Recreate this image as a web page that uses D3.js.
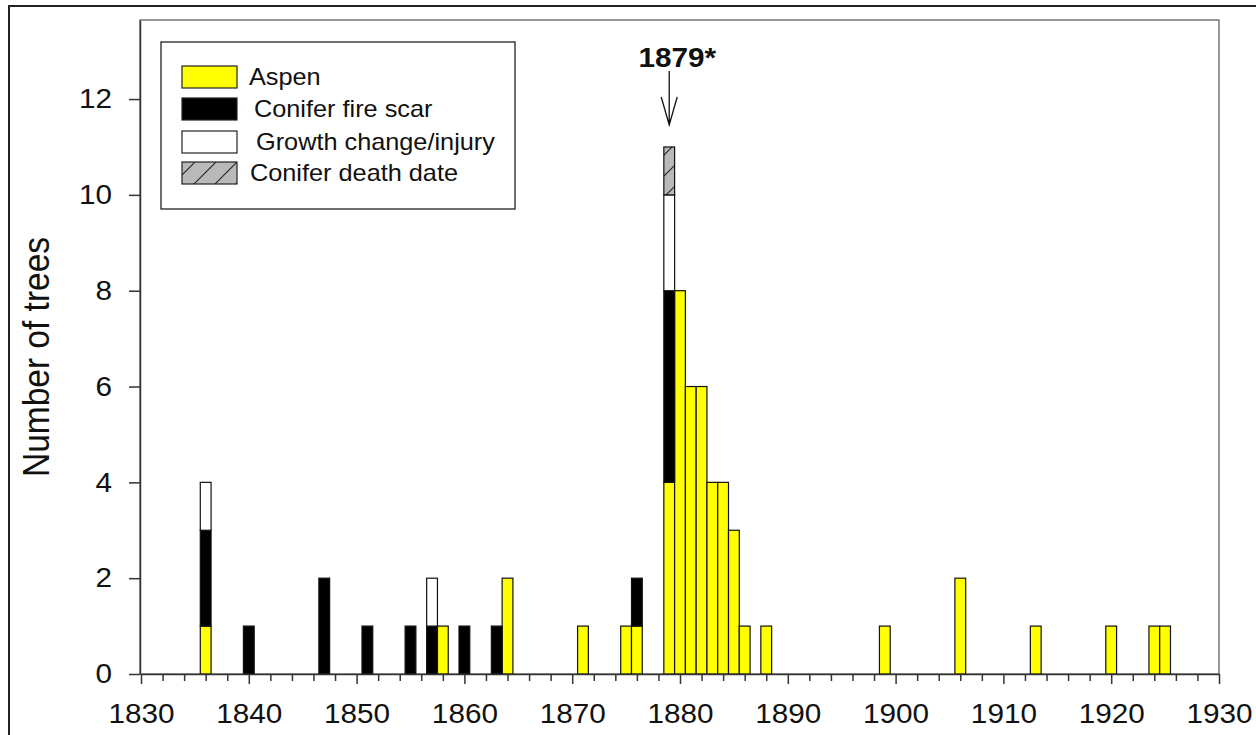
<!DOCTYPE html>
<html>
<head>
<meta charset="utf-8">
<script src="https://cdn.jsdelivr.net/npm/d3@7"></script>
<style>
  html, body { margin: 0; padding: 0; background: #fff; }
  svg { display: block; }
  text { font-family: "Liberation Sans", Arial, sans-serif; fill: #111; }
</style>
</head>
<body>
<svg id="chart" width="1256" height="735"></svg>
<script>
// Tree-ring record: counts of trees per year by evidence type
const years    = [1836,1840,1847,1851,1855,1857,1858,1860,1863,1864,1871,1875,1876,1879,1880,1881,1882,1883,1884,1885,1886,1888,1899,1906,1913,1920,1924,1925];
const aspen    = [1,   0,   0,   0,   0,   0,   1,   0,   0,   2,   1,   1,   1,   4,   8,   6,   6,   4,   4,   3,   1,   1,   1,   2,   1,   1,   1,   1];
const fireScar = [2,   1,   2,   1,   1,   1,   0,   1,   1,   0,   0,   0,   1,   4,   0,   0,   0,   0,   0,   0,   0,   0,   0,   0,   0,   0,   0,   0];
const growth   = [1,   0,   0,   0,   0,   1,   0,   0,   0,   0,   0,   0,   0,   2,   0,   0,   0,   0,   0,   0,   0,   0,   0,   0,   0,   0,   0,   0];
const death    = [0,   0,   0,   0,   0,   0,   0,   0,   0,   0,   0,   0,   0,   1,   0,   0,   0,   0,   0,   0,   0,   0,   0,   0,   0,   0,   0,   0];

const seriesKeys   = ["aspen", "fireScar", "growth", "death"];
const seriesLabels = ["Aspen", "Conifer fire scar", "Growth change/injury", "Conifer death date"];
const xMajorTicks  = [1830,1840,1850,1860,1870,1880,1890,1900,1910,1920,1930];
const yTicks       = [0,2,4,6,8,10,12];
const markYear = 1879;
const markLabel = "1879*";
const yLabel = "Number of trees";

const svg = d3.select("#chart");
const SX = 1.1; // horizontal text stretch

const plot = { left: 140, top: 20, right: 1219, bottom: 674 };
const x = d3.scaleLinear().domain([1830, 1930]).range([141, 1219]);
const y = d3.scaleLinear().domain([0, 13.65]).range([plot.bottom, plot.top]);

// hatch pattern for conifer death date
const defs = svg.append("defs");
const pat = defs.append("pattern")
  .attr("id", "hatch").attr("patternUnits", "userSpaceOnUse")
  .attr("width", 21).attr("height", 21);
pat.append("rect").attr("width", 21).attr("height", 21).attr("fill", "#b9b9b9");
pat.append("path").attr("d", "M0,21 L21,0 M-3,3 L3,-3 M18,24 L24,18")
  .attr("stroke", "#222").attr("stroke-width", 1.1);

const fills = { aspen: "#ffff00", fireScar: "#000000", growth: "#ffffff", death: "url(#hatch)" };

// outer frame
svg.append("rect").attr("x", 9).attr("y", 6).attr("width", 1400).attr("height", 900)
  .attr("fill", "none").attr("stroke", "#222").attr("stroke-width", 2);

// plot frame
svg.append("rect")
  .attr("x", plot.left).attr("y", plot.top)
  .attr("width", plot.right - plot.left).attr("height", plot.bottom - plot.top)
  .attr("fill", "none").attr("stroke", "#555").attr("stroke-width", 1.2);

// stacked bars
const table = years.map((yr, i) => ({ year: yr, aspen: aspen[i], fireScar: fireScar[i], growth: growth[i], death: death[i] }));
const stacked = d3.stack().keys(seriesKeys)(table);

const gBars = svg.append("g");
stacked.forEach(layer => {
  gBars.append("g").selectAll("rect")
    .data(layer.filter(d => d[1] > d[0]))
    .join("rect")
    .attr("x", d => x(d.data.year - 0.5))
    .attr("width", d => x(d.data.year + 0.5) - x(d.data.year - 0.5))
    .attr("y", d => y(d[1]))
    .attr("height", d => y(d[0]) - y(d[1]))
    .attr("fill", fills[layer.key])
    .attr("stroke", "#111").attr("stroke-width", 1.2);
});

// x axis: minor ticks every 2 years, then labelled major ticks
const minorTicks = d3.range(1830, 1931, 2).filter(v => !xMajorTicks.includes(v));
svg.append("g").attr("transform", `translate(0,${plot.bottom})`)
  .call(d3.axisBottom(x).tickValues(minorTicks).tickSize(7).tickSizeOuter(0).tickFormat(""))
  .call(g => g.select(".domain").remove())
  .call(g => g.selectAll("line").attr("stroke", "#333").attr("stroke-width", 1.5));

const xAxis = svg.append("g").attr("transform", `translate(0,${plot.bottom})`)
  .call(d3.axisBottom(x).tickValues(xMajorTicks).tickSize(10).tickSizeOuter(0).tickPadding(19.5).tickFormat(d3.format("d")));
xAxis.select(".domain").attr("stroke", "#333").attr("stroke-width", 1.5);
xAxis.selectAll("line").attr("stroke", "#333").attr("stroke-width", 1.5);
xAxis.selectAll("text").attr("font-size", 27).attr("fill", "#111")
  .attr("font-family", "Liberation Sans, Arial, sans-serif")
  .attr("transform", `scale(${SX},1)`);

// y axis
const yAxis = svg.append("g").attr("transform", `translate(${plot.left},0)`)
  .call(d3.axisLeft(y).tickValues(yTicks).tickSize(11).tickSizeOuter(0).tickPadding(14.5));
yAxis.select(".domain").attr("stroke", "#333").attr("stroke-width", 1.5);
yAxis.selectAll("line").attr("stroke", "#333").attr("stroke-width", 1.5);
yAxis.selectAll("text").attr("font-size", 27).attr("fill", "#111")
  .attr("font-family", "Liberation Sans, Arial, sans-serif")
  .attr("transform", `scale(${SX},1)`);

// y label
svg.append("text")
  .attr("transform", `translate(49,357) scale(${SX},1) rotate(-90)`)
  .attr("text-anchor", "middle")
  .attr("font-size", 33.5)
  .text(yLabel);

// annotation arrow for the main fire year
const ax = x(markYear);
svg.append("text")
  .attr("transform", `translate(${ax + 8},67) scale(${SX},1)`)
  .attr("text-anchor", "middle").attr("font-size", 27).attr("font-weight", "bold")
  .text(markLabel);
svg.append("path")
  .attr("d", `M${ax},71 L${ax},125 M${ax - 8},97 L${ax},125 L${ax + 8},97`)
  .attr("fill", "none").attr("stroke", "#111").attr("stroke-width", 1.3);

// legend
const legend = svg.append("g");
legend.append("rect").attr("x", 161).attr("y", 42).attr("width", 354).attr("height", 167)
  .attr("fill", "#fff").attr("stroke", "#222").attr("stroke-width", 1.3);
const swY = [66, 98, 131, 162];
const txX = [249, 254, 256, 250];
seriesKeys.forEach((k, i) => {
  legend.append("rect").attr("x", 182).attr("y", swY[i]).attr("width", 55).attr("height", 22)
    .attr("fill", fills[k]).attr("stroke", "#222").attr("stroke-width", 1.2);
  legend.append("text")
    .attr("transform", `translate(${txX[i]},${swY[i] + 19}) scale(${SX},1)`)
    .attr("font-size", 23)
    .text(seriesLabels[i]);
});
</script>
</body>
</html>
